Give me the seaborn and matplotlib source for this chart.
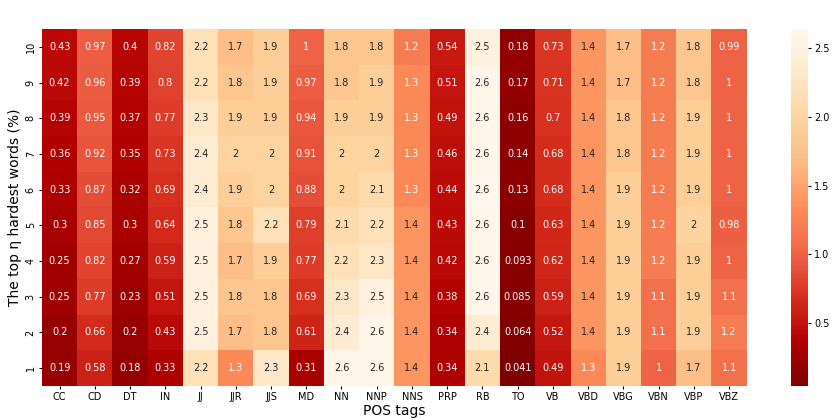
import numpy as np
import pandas as pd
import matplotlib
matplotlib.use("Agg")
import matplotlib.pyplot as plt
import seaborn as sns

# POS tags (columns) and the top-eta percentages (rows, top to bottom)
pos_tags = ['CC', 'CD', 'DT', 'IN', 'JJ', 'JJR', 'JJS', 'MD', 'NN', 'NNP',
            'NNS', 'PRP', 'RB', 'TO', 'VB', 'VBD', 'VBG', 'VBN', 'VBP', 'VBZ']
eta_levels = [10, 9, 8, 7, 6, 5, 4, 3, 2, 1]

row_10 = [0.43, 0.97, 0.4, 0.82, 2.2, 1.7, 1.9, 1.0, 1.8, 1.8, 1.2, 0.54, 2.5, 0.18, 0.73, 1.4, 1.7, 1.2, 1.8, 0.99]
row_9 = [0.42, 0.96, 0.39, 0.8, 2.2, 1.8, 1.9, 0.97, 1.8, 1.9, 1.3, 0.51, 2.6, 0.17, 0.71, 1.4, 1.7, 1.2, 1.8, 1.0]
row_8 = [0.39, 0.95, 0.37, 0.77, 2.3, 1.9, 1.9, 0.94, 1.9, 1.9, 1.3, 0.49, 2.6, 0.16, 0.7, 1.4, 1.8, 1.2, 1.9, 1.0]
row_7 = [0.36, 0.92, 0.35, 0.73, 2.4, 2.0, 2.0, 0.91, 2.0, 2.0, 1.3, 0.46, 2.6, 0.14, 0.68, 1.4, 1.8, 1.2, 1.9, 1.0]
row_6 = [0.33, 0.87, 0.32, 0.69, 2.4, 1.9, 2.0, 0.88, 2.0, 2.1, 1.3, 0.44, 2.64, 0.13, 0.68, 1.4, 1.9, 1.2, 1.9, 1.0]
row_5 = [0.3, 0.85, 0.3, 0.64, 2.5, 1.8, 2.2, 0.79, 2.1, 2.2, 1.4, 0.43, 2.6, 0.1, 0.63, 1.4, 1.9, 1.2, 2.0, 0.98]
row_4 = [0.25, 0.82, 0.27, 0.59, 2.5, 1.7, 1.9, 0.77, 2.2, 2.3, 1.4, 0.42, 2.6, 0.093, 0.62, 1.4, 1.9, 1.2, 1.9, 1.0]
row_3 = [0.25, 0.77, 0.23, 0.51, 2.5, 1.8, 1.8, 0.69, 2.3, 2.5, 1.4, 0.38, 2.6, 0.085, 0.59, 1.4, 1.9, 1.1, 1.9, 1.1]
row_2 = [0.2, 0.66, 0.2, 0.43, 2.5, 1.7, 1.8, 0.61, 2.4, 2.6, 1.4, 0.34, 2.4, 0.064, 0.52, 1.4, 1.9, 1.1, 1.9, 1.2]
row_1 = [0.19, 0.58, 0.18, 0.33, 2.2, 1.3, 2.3, 0.31, 2.6, 2.6, 1.4, 0.34, 2.1, 0.041, 0.49, 1.3, 1.9, 1.0, 1.7, 1.1]

df = pd.DataFrame([row_10, row_9, row_8, row_7, row_6, row_5, row_4, row_3, row_2, row_1],
                  index=eta_levels, columns=pos_tags)

fig = plt.figure(figsize=(8.39, 4.2), dpi=100)
ax = fig.add_axes([0.050, 0.081, 0.840, 0.850])
cax = fig.add_axes([0.943, 0.081, 0.020, 0.850])

sns.heatmap(df, ax=ax, cbar_ax=cax, cmap='OrRd_r', annot=True, fmt='.2g',
            annot_kws={'fontsize': 7})

ax.set_xlabel('POS tags', fontsize=10, labelpad=1)
ax.set_ylabel('The top η hardest words (%)', fontsize=10, labelpad=3)
ax.tick_params(axis='both', labelsize=7, length=2.5, pad=2)
cax.tick_params(labelsize=7, length=2.5, pad=2)
cax.set_yticks([0.5, 1.0, 1.5, 2.0, 2.5])

fig.savefig('out.png', dpi=100)
